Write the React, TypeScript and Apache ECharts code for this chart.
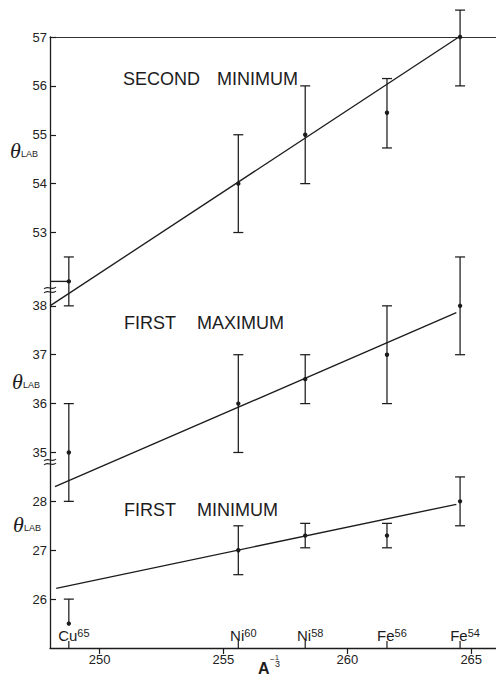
import React, { useEffect, useRef } from "react";
import * as echarts from "echarts";

// Isotopes along the A^(-1/3) axis
const isotopeNames = ["Cu", "Ni", "Ni", "Fe", "Fe"];
const massNumbers = ["65", "60", "58", "56", "54"];
const isotopeX = [248.76, 255.6, 258.3, 261.6, 264.55];

// Second minimum (θ_LAB, degrees)
const secondMinValue = [52.0, 54.0, 55.0, 55.45, 57.0];
const secondMinLow = [51.5, 53.0, 54.0, 54.73, 56.0];
const secondMinHigh = [52.5, 55.0, 56.0, 56.15, 57.55];
const secondMinFitX = [248.0, 264.5];
const secondMinFitY = [51.5, 57.0];

// First maximum
const firstMaxValue = [35.0, 36.0, 36.5, 37.0, 38.0];
const firstMaxLow = [34.0, 35.0, 36.0, 36.0, 37.0];
const firstMaxHigh = [36.0, 37.0, 37.0, 38.0, 39.0];
const firstMaxFitX = [248.2, 264.4];
const firstMaxFitY = [34.3, 37.86];

// First minimum
const firstMinValue = [25.5, 27.0, 27.3, 27.3, 28.0];
const firstMinLow = [25.5, 26.5, 27.05, 27.05, 27.5];
const firstMinHigh = [26.0, 27.5, 27.55, 27.55, 28.5];
const firstMinFitX = [248.25, 264.4];
const firstMinFitY = [26.22, 27.94];

// Tick labels
const xTicks = [250, 255, 260, 265];
const secondMinTicks = [53, 54, 55, 56, 57];
const firstMaxTicks = [35, 36, 37, 38];
const firstMinTicks = [26, 27, 28];

const INK = "#1c1c1c";
const SANS = "'Liberation Sans', Arial, sans-serif";

function errorBars(values: number[], lows: number[], highs: number[], yAxisIndex: number) {
  return {
    type: "custom",
    xAxisIndex: 0,
    yAxisIndex,
    clip: false,
    silent: true,
    data: isotopeX.map((x, i) => [x, values[i], lows[i], highs[i]]),
    encode: { x: 0, y: 1 },
    renderItem: (_params: any, api: any) => {
      const x = api.value(0);
      const v = api.value(1);
      const lo = api.value(2);
      const hi = api.value(3);
      const c = api.coord([x, v]);
      const l = api.coord([x, lo]);
      const h = api.coord([x, hi]);
      const half = 5;
      const stroke = { stroke: INK, lineWidth: 1.25 };
      const children: any[] = [
        { type: "line", shape: { x1: c[0], y1: h[1], x2: c[0], y2: l[1] }, style: stroke },
        { type: "circle", shape: { cx: c[0], cy: c[1], r: 2.2 }, style: { fill: INK } },
      ];
      if (hi > v) {
        children.push({ type: "line", shape: { x1: c[0] - half, y1: h[1], x2: c[0] + half, y2: h[1] }, style: stroke });
      }
      if (lo < v) {
        children.push({ type: "line", shape: { x1: c[0] - half, y1: l[1], x2: c[0] + half, y2: l[1] }, style: stroke });
      }
      return { type: "group", children };
    },
  };
}

function fitLine(xs: number[], ys: number[], yAxisIndex: number) {
  return {
    type: "line",
    xAxisIndex: 0,
    yAxisIndex,
    silent: true,
    showSymbol: false,
    symbol: "none",
    data: xs.map((x, i) => [x, ys[i]]),
    lineStyle: { color: INK, width: 1.35 },
  };
}

function panelAxis(min: number, max: number, ticks: number[], showLine: boolean) {
  return {
    type: "value",
    position: "left",
    min,
    max,
    splitLine: { show: false },
    axisLine: { show: showLine, onZero: false, lineStyle: { color: INK, width: 1.3 } },
    axisTick: { show: true, inside: true, length: 6, customValues: ticks, lineStyle: { color: INK, width: 1.2 } },
    axisLabel: {
      show: true,
      customValues: ticks,
      margin: 3,
      color: "#222",
      fontSize: 13,
      fontFamily: SANS,
    },
  };
}

function breakMark(y: number) {
  const wave = (yy: number) => ({
    type: "bezierCurve",
    shape: { x1: 44, y1: yy + 1, cpx1: 47.5, cpy1: yy - 3, cpx2: 52.5, cpy2: yy + 3, x2: 56, y2: yy - 1 },
    style: { stroke: INK, lineWidth: 1.1, fill: null },
  });
  return { type: "group", children: [wave(y), wave(y + 4)] };
}

function thetaLabel(x: number, y: number) {
  return {
    type: "group",
    children: [
      {
        type: "text",
        x,
        y,
        style: {
          text: "θ",
          fontSize: 22,
          fontStyle: "italic",
          fontFamily: "'Liberation Serif', 'Times New Roman', serif",
          fill: INK,
          verticalAlign: "middle",
          align: "left",
        },
      },
      {
        type: "text",
        x: x + 11,
        y: y + 4,
        style: { text: "LAB", fontSize: 9, fontFamily: SANS, fill: INK, verticalAlign: "middle", align: "left" },
      },
    ],
  };
}

function title(x: number, y: number, text: string) {
  return {
    type: "text",
    x,
    y,
    style: { text, fontSize: 18, fontFamily: SANS, fill: INK, verticalAlign: "middle", align: "left" },
  };
}

export default function App() {
  const ref = useRef<HTMLDivElement>(null);

  useEffect(() => {
    if (!ref.current) return;
    const chart = echarts.init(ref.current, null, { renderer: "svg" });

    const option: any = {
      animation: false,
      backgroundColor: "#ffffff",
      grid: { left: 50, top: 37, width: 448, height: 611 },
      xAxis: [
        {
          type: "value",
          position: "bottom",
          min: 248,
          max: 266,
          splitLine: { show: false },
          axisLine: { show: true, onZero: false, lineStyle: { color: INK, width: 1.3 } },
          axisTick: { show: true, length: 6, customValues: xTicks, lineStyle: { color: INK, width: 1.2 } },
          axisLabel: { customValues: xTicks, margin: 5, color: "#222", fontSize: 13, fontFamily: SANS },
        },
        {
          type: "value",
          position: "top",
          min: 248,
          max: 266,
          splitLine: { show: false },
          axisLine: { show: true, onZero: false, lineStyle: { color: "#333", width: 1.2 } },
          axisTick: { show: false },
          axisLabel: { show: false },
        },
      ],
      yAxis: [
        panelAxis(44.5, 57, secondMinTicks, false),
        panelAxis(31, 43.5, firstMaxTicks, false),
        panelAxis(25, 37.5, firstMinTicks, true),
      ],
      series: [
        errorBars(secondMinValue, secondMinLow, secondMinHigh, 0),
        fitLine(secondMinFitX, secondMinFitY, 0),
        // short leader from the axis to the off-scale Cu point
        fitLine([248, isotopeX[0]], [secondMinValue[0], secondMinValue[0]], 0),
        errorBars(firstMaxValue, firstMaxLow, firstMaxHigh, 1),
        fitLine(firstMaxFitX, firstMaxFitY, 1),
        errorBars(firstMinValue, firstMinLow, firstMinHigh, 2),
        fitLine(firstMinFitX, firstMinFitY, 2),
        {
          type: "custom",
          xAxisIndex: 0,
          yAxisIndex: 2,
          clip: false,
          silent: true,
          data: isotopeX.map((x) => [x, 25]),
          encode: { x: 0, y: 1 },
          renderItem: (params: any, api: any) => {
            const i = params.dataIndex;
            const p = api.coord([api.value(0), api.value(1)]);
            return {
              type: "group",
              children: [
                {
                  type: "line",
                  shape: { x1: p[0], y1: p[1], x2: p[0], y2: p[1] - 7 },
                  style: { stroke: INK, lineWidth: 1.2 },
                },
                {
                  type: "text",
                  x: p[0] + 5,
                  y: p[1] - 4,
                  style: {
                    text: `{n|${isotopeNames[i]}}{m|${massNumbers[i]}}`,
                    align: "center",
                    verticalAlign: "bottom",
                    rich: {
                      n: { fontSize: 15, lineHeight: 17, fontFamily: SANS, fill: INK, color: INK },
                      m: { fontSize: 11, lineHeight: 17, fontFamily: SANS, fill: INK, color: INK, verticalAlign: "top" },
                    },
                  },
                },
              ],
            };
          },
        },
      ],
      graphic: [
        breakMark(288),
        breakMark(460),
        thetaLabel(10, 150),
        thetaLabel(12, 381),
        thetaLabel(13, 524),
        title(123, 79, "SECOND"),
        title(217, 79, "MINIMUM"),
        title(124, 323, "FIRST"),
        title(197, 323, "MAXIMUM"),
        title(124, 510, "FIRST"),
        title(197, 510, "MINIMUM"),
        {
          type: "group",
          children: [
            { type: "text", x: 258, y: 668, style: { text: "A", fontSize: 16, fontWeight: "bold", fontFamily: SANS, fill: INK, verticalAlign: "middle" } },
            { type: "text", x: 270, y: 659, style: { text: "−", fontSize: 8, fontFamily: SANS, fill: INK, verticalAlign: "middle" } },
            { type: "text", x: 275, y: 657, style: { text: "1", fontSize: 7, fontFamily: SANS, fill: INK, verticalAlign: "middle" } },
            { type: "text", x: 275, y: 664, style: { text: "3", fontSize: 9, fontFamily: SANS, fill: INK, verticalAlign: "middle" } },
          ],
        },
      ],
    };

    chart.setOption(option);
    return () => chart.dispose();
  }, []);

  return (
    <div
      ref={ref}
      style={{ position: "absolute", left: 0, top: 0, width: 496, height: 679, background: "#fff" }}
    />
  );
}
